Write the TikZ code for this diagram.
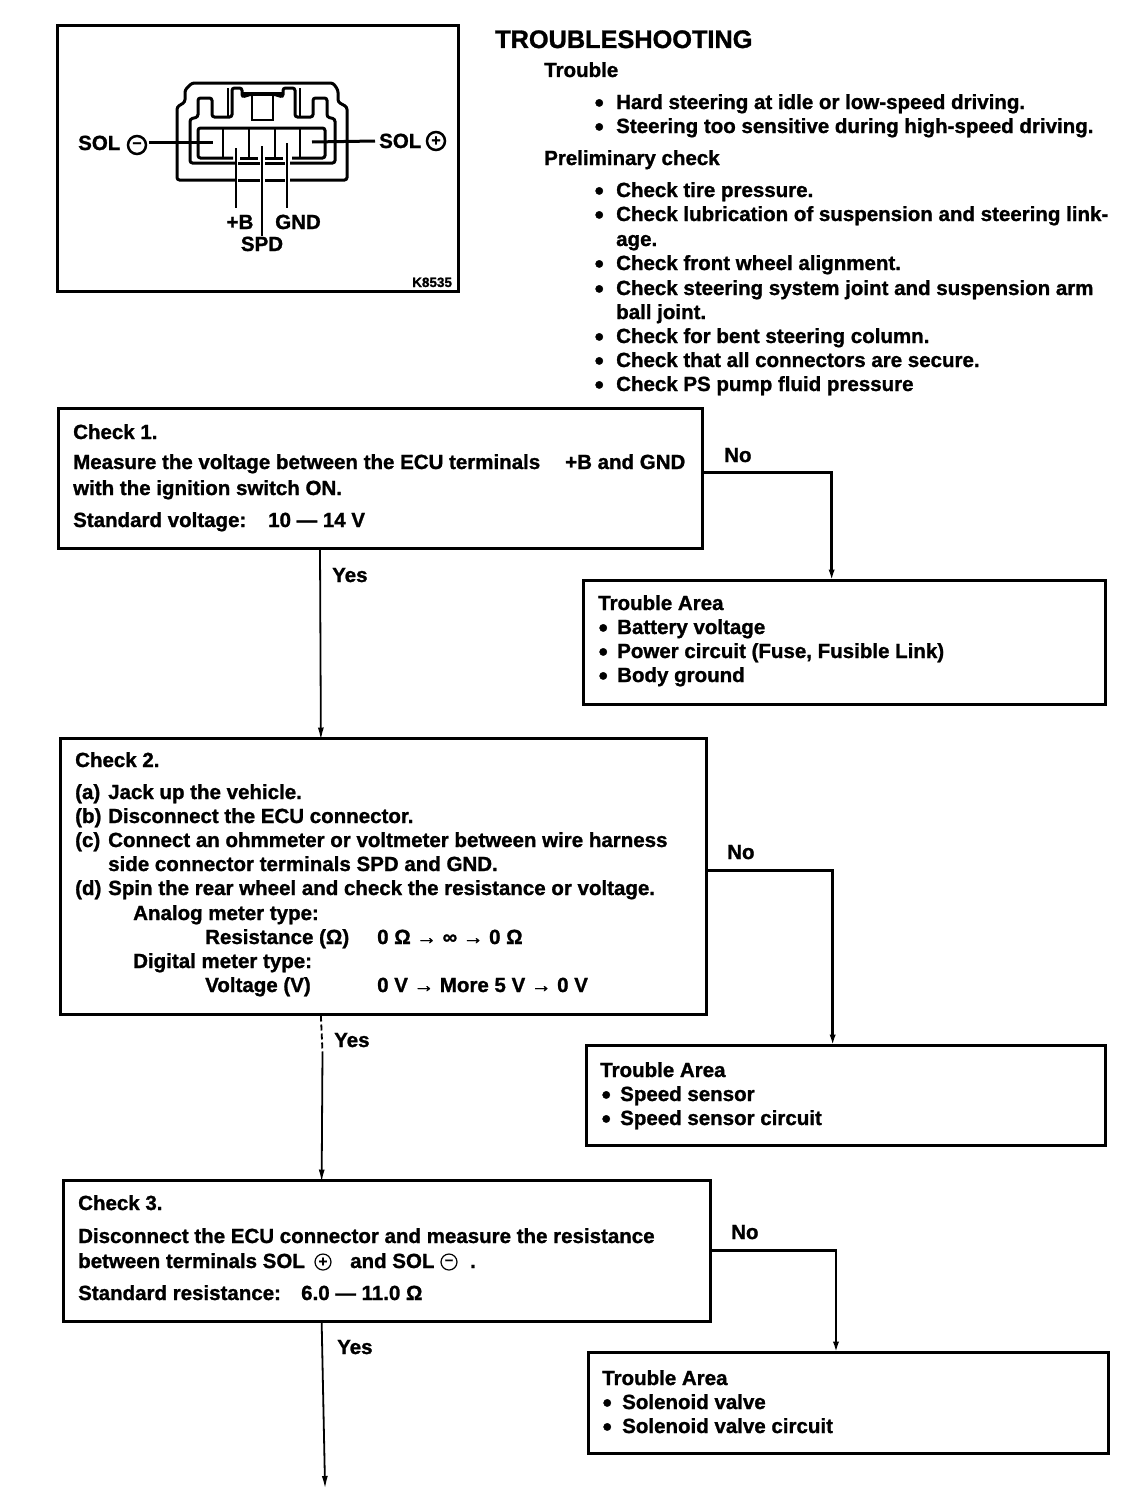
\documentclass[tikz,border=0pt]{standalone}
\usepackage{fontspec}
\setmainfont{Liberation Sans}[BoldFeatures={FakeBold=1.2}]
\usetikzlibrary{arrows.meta}
\tikzset{
  txt/.style={anchor=base west, inner sep=0pt, font=\fontsize{20.5}{24}\selectfont\bfseries},
  smalltxt/.style={txt, font=\fontsize{13.5}{14}\selectfont\bfseries},
  headtxt/.style={txt, font=\fontsize{25.3}{28}\selectfont\bfseries},
  dot/.style={txt, yshift=-2.5pt, font=\fontsize{26}{26}\selectfont\bfseries},
  panel/.style={draw, line width=3pt, inner sep=0pt},
  wire/.style={line width=2.2pt},
  part/.style={line width=3pt, rounded corners=2.5pt},
  link/.style={line width=2.8pt, shorten >=-4pt, -{Latex[length=13pt, width=6pt]}},
  yeslink/.style={line width=1.8pt, shorten >=-4pt, -{Latex[length=13pt, width=6pt]}},
  solmark/.style={draw, circle, line width=2.5pt, inner sep=0pt, minimum size=18pt, font=\fontsize{16}{16}\selectfont\bfseries},
  solsmall/.style={draw, circle, line width=1.2pt, inner sep=0pt, minimum size=16pt, font=\fontsize{15}{15}\selectfont\bfseries}
}
\begin{document}
\begin{tikzpicture}[x=1pt, y=-1pt]
\useasboundingbox (0,0) rectangle (1136,1504);

%Conector
\node[panel, minimum width=401, minimum height=265] (frame) at (257.5,158.5) {};
\draw[part] (235,180) -- (177,180) -- (177,107) -- (185,102) -- (185,90) -- (192,83) -- (333,83) -- (338,90) -- (338,102) -- (347,107) -- (347,180) -- (290,180);
\draw[part] (238,180) -- (260,180);
\draw[part] (265,180) -- (285,180);
\draw[part] (235,163) -- (190,163) -- (190,119) -- (198,117) -- (198,98) -- (212,98) -- (212,117) -- (232,117) -- (232,88) -- (242,88) -- (242,97) -- (252,94) -- (273,94) -- (283,97) -- (283,88) -- (295,88) -- (295,117) -- (313,117) -- (313,98) -- (327,98) -- (327,117) -- (335,119) -- (335,163) -- (290,163);
\draw[part] (238,163) -- (260,163);
\draw[part] (265,163) -- (285,163);
\draw[wire] (228,88) -- (228,117);
\draw[wire] (300,88) -- (300,117);
\draw[wire] (252,95) -- (252,120) -- (273,120) -- (273,95);
\draw[line width=3.5pt] (242,94) -- (283,94);
\draw[part] (233,158) -- (198,158) -- (198,128) -- (325,128) -- (325,158) -- (292,158);
\draw[part] (240,158) -- (258,158);
\draw[part] (265,158) -- (283,158);
\foreach \x in {223,249,275,300} \draw[wire] (\x,128) -- (\x,157);

\node[txt] (sola) at (78,150) {SOL};
\node[solmark] (minus) at (137,145) {--};
\node[txt] (solb) at (379,148) {SOL};
\node[solmark] (plus) at (436,141) {+};
\node[txt, anchor=base] (bat) at (240,229) {+B};
\node[txt, anchor=base] (gnd) at (298,229) {GND};
\node[txt, anchor=base] (spd) at (262,251) {SPD};
\node[smalltxt] (code) at (412,287) {K8535};
\coordinate (solc) at (213,142);
\coordinate (sold) at (312,142);
\coordinate (batc) at (236,148);
\coordinate (spdc) at (262,146);
\coordinate (gndc) at (287,143);
\draw[line width=3pt] (minus.east) ++(2,-3) -- (solc);
\draw[line width=3pt, shorten >=4pt] (sold) -- (solb.west);
\draw[wire] (batc) -- (236,208);
\draw[wire] (spdc) -- (spd.north -| spdc);
\draw[wire] (gndc) -- (287,208);

%Encabezado
\node[headtxt] (head) at (495,48) {TROUBLESHOOTING};
\node[txt] (trb) at (544,77) {Trouble};
\foreach \n/\y/\t in {a/109/{Hard steering at idle or low-speed driving.}, b/133/{Steering too sensitive during high-speed driving.}}
  \node[txt] (trb\n) at (616,\y) {\t};
\foreach \n/\y in {a/109, b/133}
  \node[dot] (trbdot\n) at (594.5,\y) {•};
\node[txt] (prel) at (544,165) {Preliminary check};
\foreach \n/\y/\t in {a/197/{Check tire pressure.}, b/221/{Check lubrication of suspension and steering link-}, c/246/{age.}, d/270/{Check front wheel alignment.}, e/295/{Check steering system joint and suspension arm}, f/319/{ball joint.}, g/343/{Check for bent steering column.}, h/367/{Check that all connectors are secure.}, i/391/{Check PS pump fluid pressure}}
  \node[txt] (prel\n) at (616,\y) {\t};
\foreach \n/\y in {a/197, b/221, d/270, e/295, g/343, h/367, i/391}
  \node[dot] (preldot\n) at (594.5,\y) {•};

%Check 1
\node[panel, minimum width=644, minimum height=140] (chk1) at (380,478) {};
\node[txt] (chk1a) at (73,439) {Check 1.};
\node[txt] (chk1b) at (73,469) {Measure the voltage between the ECU terminals};
\node[txt] (chk1f) at (565,469) {+B and GND};
\node[txt] (chk1c) at (73,495) {with the ignition switch ON.};
\node[txt] (chk1d) at (73,527) {Standard voltage:};
\node[txt] (chk1e) at (268,527) {10 — 14 V};

\node[panel, minimum width=522, minimum height=124] (area1) at (844,642) {};
\node[txt] (area1a) at (598,610) {Trouble Area};
\foreach \n/\y/\t in {a/634/{Battery voltage}, b/658/{Power circuit (Fuse, Fusible Link)}, c/682/{Body ground}}{
  \node[txt] (area1t\n) at (617,\y) {\t};
  \node[dot] (area1d\n) at (598.5,\y) {•};
}

%Check 2
\node[panel, minimum width=646, minimum height=276] (chk2) at (383,876) {};
\node[txt] (chk2a) at (75,767) {Check 2.};
\foreach \n/\y/\m/\t in {a/799/(a)/{Jack up the vehicle.}, b/823/(b)/{Disconnect the ECU connector.}, c/847/(c)/{Connect an ohmmeter or voltmeter between wire harness}, d/895/(d)/{Spin the rear wheel and check the resistance or voltage.}}{
  \node[txt] (stp\n) at (75,\y) {\m};
  \node[txt] (stpt\n) at (108,\y) {\t};
}
\node[txt] (stpe) at (108,871) {side connector terminals SPD and GND.};
\node[txt] (ana) at (133,920) {Analog meter type:};
\node[txt] (res) at (205,944) {Resistance (Ω)};
\node[txt] (resv) at (377,944) {0 Ω → ∞ → 0 Ω};
\node[txt] (dig) at (133,968) {Digital meter type:};
\node[txt] (vol) at (205,992) {Voltage (V)};
\node[txt] (volv) at (377,992) {0 V → More 5 V → 0 V};

\node[panel, minimum width=519, minimum height=100] (area2) at (845.5,1095) {};
\node[txt] (area2a) at (600,1077) {Trouble Area};
\foreach \n/\y/\t in {a/1101/{Speed sensor}, b/1125/{Speed sensor circuit}}{
  \node[txt] (area2t\n) at (620,\y) {\t};
  \node[dot] (area2d\n) at (601.5,\y) {•};
}

%Check 3
\node[panel, minimum width=647, minimum height=141] (chk3) at (386.5,1250.5) {};
\node[txt] (chk3a) at (78,1210) {Check 3.};
\node[txt] (chk3b) at (78,1243) {Disconnect the ECU connector and measure the resistance};
\node[txt] (chk3c) at (78,1268) {between terminals SOL};
\node[solsmall] (chk3p) at (323,1262) {+};
\node[txt] (chk3d) at (350,1268) {and SOL};
\node[solsmall] (chk3m) at (449,1262) {--};
\node[txt] (chk3e) at (470,1268) {.};
\node[txt] (chk3f) at (78,1300) {Standard resistance:};
\node[txt] (chk3g) at (301,1300) {6.0 — 11.0 Ω};

\node[panel, minimum width=520, minimum height=101] (area3) at (848,1402.5) {};
\node[txt] (area3a) at (602,1385) {Trouble Area};
\foreach \n/\y/\t in {a/1409/{Solenoid valve}, b/1433/{Solenoid valve circuit}}{
  \node[txt] (area3t\n) at (622,\y) {\t};
  \node[dot] (area3d\n) at (602.5,\y) {•};
}

%Flechas
\node[txt] (no1) at (724,462) {No};
\node[txt] (yes1) at (332,582) {Yes};
\node[txt] (no2) at (727,859) {No};
\node[txt] (yes2) at (334,1047) {Yes};
\node[txt] (no3) at (731,1239) {No};
\node[txt] (yes3) at (337,1354) {Yes};
\coordinate (endarrow) at (325,1485);
\coordinate (yesb) at (322.5,1052);
\draw[link] (chk1.1.4) -| (area1.101.8);
\draw[link] (chk2.1.06) -| (area2.104);
\draw[link] (chk3.0) -| (area3.103.4);
\draw[yeslink] (chk1.230.4) -- (chk2.114.2);
\draw[line width=1.8pt, dash pattern=on 6pt off 3pt] (chk2.246.2) -- (yesb);
\draw[yeslink] (yesb) -- (chk3.132);
\draw[yeslink] (chk3.228.4) -- (endarrow);
\end{tikzpicture}
\end{document}
